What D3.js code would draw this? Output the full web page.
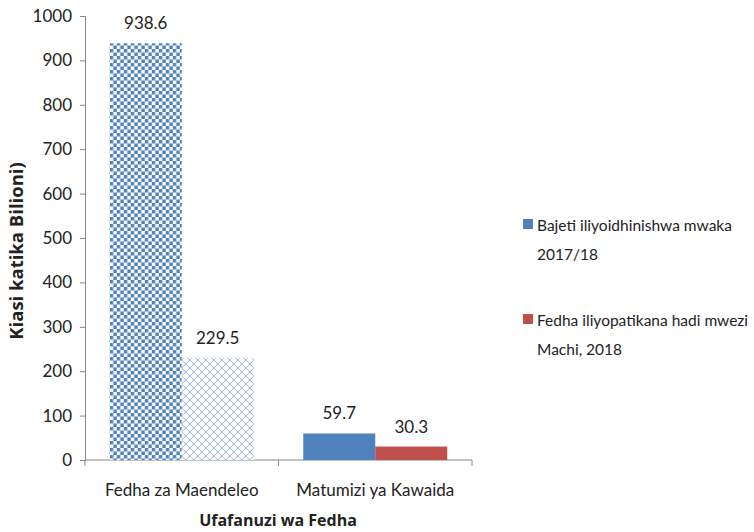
<!DOCTYPE html>
<html>
<head>
<meta charset="utf-8">
<script src="https://cdn.jsdelivr.net/npm/d3@7"></script>
<style>
  body { margin: 0; background: #fff; }
  text { font-family: "Lato", "Open Sans", sans-serif; fill: #222; }
</style>
</head>
<body>
<svg id="chart" width="754" height="532"></svg>
<script>
// data
const categories = ["Fedha za Maendeleo", "Matumizi ya Kawaida"];
const seriesNames = ["Bajeti iliyoidhinishwa mwaka 2017/18", "Fedha iliyopatikana hadi mwezi Machi, 2018"];
const budgetValues = [938.6, 59.7];
const receivedValues = [229.5, 30.3];
const yTicks = [0, 100, 200, 300, 400, 500, 600, 700, 800, 900, 1000];

const legendLines = [
    ["Bajeti iliyoidhinishwa mwaka", "2017/18"],
    ["Fedha iliyopatikana hadi mwezi", "Machi, 2018"]
];

const blue = "#4f81bd", red = "#c0504d";

const svg = d3.select("#chart");

// patterns used on the first category
const defs = svg.append("defs");
const checker = defs.append("pattern")
    .attr("id", "checker")
    .attr("patternUnits", "userSpaceOnUse")
    .attr("width", 7).attr("height", 7);
checker.append("rect").attr("width", 7).attr("height", 7).attr("fill", "#fff");
checker.append("rect").attr("width", 3.5).attr("height", 3.5).attr("fill", blue);
checker.append("rect").attr("x", 3.5).attr("y", 3.5).attr("width", 3.5).attr("height", 3.5).attr("fill", blue);

const lattice = defs.append("pattern")
    .attr("id", "lattice")
    .attr("patternUnits", "userSpaceOnUse")
    .attr("width", 8).attr("height", 8);
lattice.append("rect").attr("width", 8).attr("height", 8).attr("fill", "#fff");
lattice.append("path")
    .attr("d", "M0,0L8,8M8,0L0,8")
    .attr("stroke", "#9db5df").attr("stroke-width", 1).attr("fill", "none");

// scales
const y = d3.scaleLinear().domain([0, 1000]).range([460, 16]);
const x = d3.scaleBand().domain(categories).range([85, 472])
    .paddingInner(0.256).paddingOuter(0.128);
const xSub = d3.scaleBand().domain([0, 1]).range([0, x.bandwidth()]);

// y axis
const yAxis = svg.append("g")
    .attr("transform", "translate(85,0)")
    .call(d3.axisLeft(y).tickValues(yTicks).tickSize(5).tickPadding(8).tickFormat(d3.format("d")));
yAxis.select(".domain").attr("stroke", "#888");
yAxis.selectAll(".tick line").attr("stroke", "#888");
yAxis.selectAll(".tick text").style("font-size", "17px").attr("fill", "#222");

// x axis line and category separator ticks
const xAxis = svg.append("g");
xAxis.append("line")
    .attr("x1", 85).attr("x2", 472)
    .attr("y1", y(0)).attr("y2", y(0))
    .attr("stroke", "#888");
const edges = [85].concat(categories.map(c => x(c) + x.bandwidth() + x.step() * x.paddingInner() / 2));
edges[edges.length - 1] = 472;
xAxis.selectAll(".sep").data(edges).join("line")
    .attr("x1", d => d).attr("x2", d => d)
    .attr("y1", y(0)).attr("y2", y(0) + 6)
    .attr("stroke", "#888");
xAxis.selectAll(".cat").data(categories).join("text")
    .attr("x", d => x(d) + x.bandwidth() / 2)
    .attr("y", 496)
    .attr("text-anchor", "middle")
    .style("font-size", "17px")
    .text(d => d);

// bars
const rows = categories.map((c, i) => ({ cat: c, values: [budgetValues[i], receivedValues[i]], idx: i }));
const fills = [
    ["url(#checker)", "url(#lattice)"],
    [blue, red]
];

const groups = svg.selectAll(".grp").data(rows).join("g")
    .attr("transform", d => `translate(${x(d.cat)},0)`);

groups.selectAll("rect")
    .data(d => d.values.map((v, s) => ({ v, s, idx: d.idx })))
    .join("rect")
    .attr("x", d => xSub(d.s))
    .attr("y", d => y(d.v))
    .attr("width", xSub.bandwidth())
    .attr("height", d => y(0) - y(d.v))
    .attr("fill", d => fills[d.idx][d.s]);

groups.selectAll(".lbl")
    .data(d => d.values.map((v, s) => ({ v, s })))
    .join("text")
    .attr("x", d => xSub(d.s) + xSub.bandwidth() / 2)
    .attr("y", d => y(d.v) - 14)
    .attr("text-anchor", "middle")
    .style("font-size", "17px")
    .text(d => d3.format(".1f")(d.v));

// axis titles
svg.append("text")
    .attr("transform", "translate(23,251) rotate(-90)")
    .attr("text-anchor", "middle")
    .style("font-family", "'Open Sans', sans-serif")
    .style("font-size", "18.5px")
    .style("font-weight", "bold")
    .text("Kiasi katika Bilioni)");

svg.append("text")
    .attr("x", 278).attr("y", 526)
    .attr("text-anchor", "middle")
    .style("font-family", "'Open Sans', sans-serif")
    .style("font-size", "16px")
    .style("font-weight", "bold")
    .text("Ufafanuzi wa Fedha");

// legend
const legendColors = [blue, red];
const legend = svg.selectAll(".leg").data(legendLines).join("g")
    .attr("transform", (d, i) => `translate(523,${219 + i * 95})`);
legend.append("rect")
    .attr("width", 10).attr("height", 10)
    .attr("fill", (d, i) => legendColors[i]);
legend.selectAll("text").data(d => d).join("text")
    .attr("x", 14)
    .attr("y", (d, j) => 12 + j * 29)
    .style("font-size", "15.5px")
    .attr("textLength", (d, j) => null)
    .text(d => d);
</script>
</body>
</html>
